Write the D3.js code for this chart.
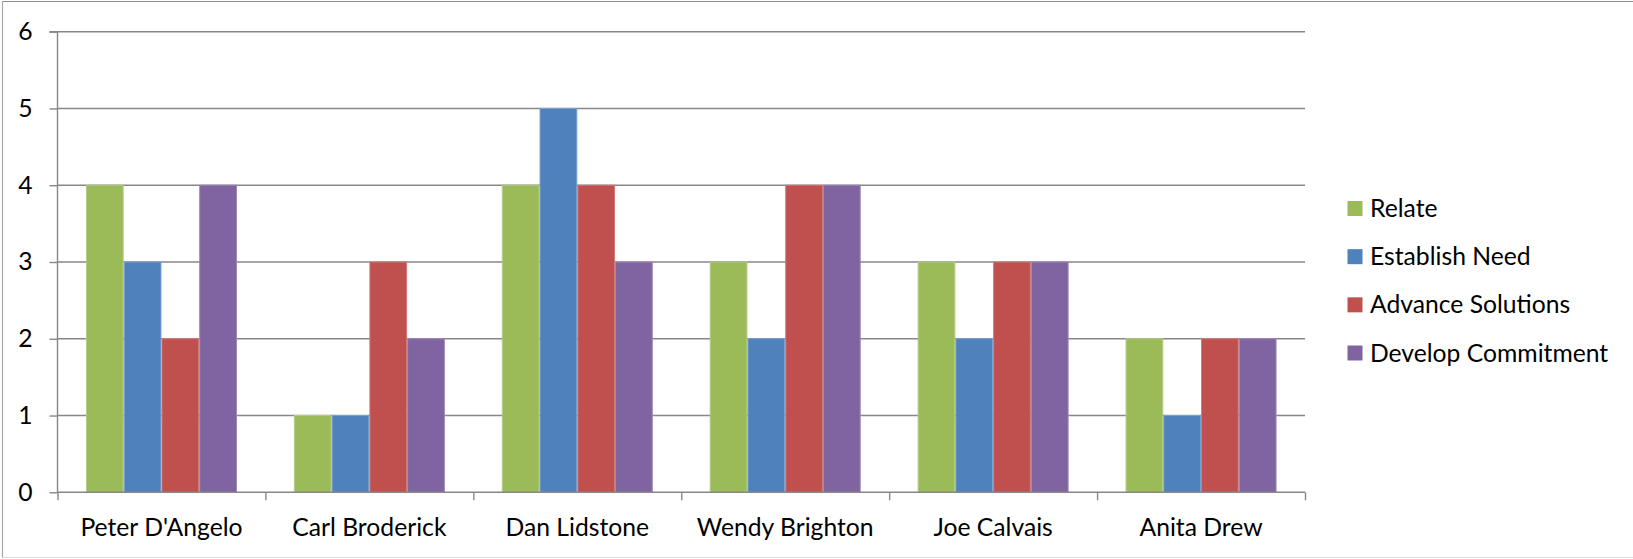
<!DOCTYPE html>
<html>
<head>
<meta charset="utf-8">
<script src="https://cdn.jsdelivr.net/npm/d3@7"></script>
<style>
  html, body { margin: 0; padding: 0; background: #fff; }
  svg { display: block; }
  text { font-family: Lato, "Open Sans", sans-serif; fill: #000; }
</style>
</head>
<body>
<svg id="chart" width="1633" height="559"></svg>
<script>
const categories = ["Peter D'Angelo", "Carl Broderick", "Dan Lidstone", "Wendy Brighton", "Joe Calvais", "Anita Drew"];
const seriesNames = ["Relate", "Establish Need", "Advance Solutions", "Develop Commitment"];
const relate = [4, 1, 4, 3, 3, 2];
const establishNeed = [3, 1, 5, 2, 2, 1];
const advanceSolutions = [2, 3, 4, 4, 3, 2];
const developCommitment = [4, 2, 3, 4, 3, 2];
const yTicks = [0, 1, 2, 3, 4, 5, 6];
const colors = ["#9BBB59", "#4F81BD", "#C0504D", "#8064A2"];
const strokes = ["#b3cc85", "#7aa0cf", "#d07a78", "#9d87b9"];

const seriesValues = [relate, establishNeed, advanceSolutions, developCommitment];

const svg = d3.select("#chart");
const W = 1633, H = 559;
const plot = { left: 57.5, right: 1305, top: 31.7, bottom: 492.3 };
const FONT = 24.7;
const axisColor = "#878787";

// outer frame
svg.append("line").attr("x1", 2.5).attr("x2", W).attr("y1", 1.5).attr("y2", 1.5).attr("stroke", "#8f8f8f").attr("stroke-width", 1.2);
svg.append("line").attr("x1", 2.5).attr("x2", 2.5).attr("y1", 1.5).attr("y2", 557.5).attr("stroke", "#a8a8a8").attr("stroke-width", 1.2);
svg.append("line").attr("x1", 2.5).attr("x2", W).attr("y1", 557.5).attr("y2", 557.5).attr("stroke", "#dcdcdc").attr("stroke-width", 1.2);

const y = d3.scaleLinear().domain([0, 6]).range([plot.bottom, plot.top]);
const x0 = d3.scaleBand().domain(categories).range([plot.left, plot.right]).padding(0);
const x1 = d3.scaleBand().domain(seriesNames).range([0, x0.bandwidth()]).paddingInner(0).paddingOuter(0.7536);

// gridlines
svg.append("g").selectAll("line").data(yTicks.filter(d => d > 0)).join("line")
  .attr("x1", plot.left).attr("x2", plot.right)
  .attr("y1", d => y(d)).attr("y2", d => y(d))
  .attr("stroke", axisColor).attr("stroke-width", 1.4);

// bars
const groups = svg.append("g").selectAll("g").data(categories).join("g")
  .attr("transform", c => `translate(${x0(c)},0)`);
groups.selectAll("rect").data((c, ci) => seriesNames.map((s, si) => ({ s, si, v: seriesValues[si][ci] })))
  .join("rect")
  .attr("x", d => x1(d.s) + 0.5)
  .attr("width", x1.bandwidth() - 1)
  .attr("y", d => y(d.v))
  .attr("height", d => y(0) - y(d.v))
  .attr("fill", d => colors[d.si])
  .attr("stroke", d => strokes[d.si])
  .attr("stroke-width", 1);

// y axis
const yAxis = d3.axisLeft(y).tickValues(yTicks).tickSize(8).tickPadding(17).tickFormat(d3.format("d"));
const gy = svg.append("g").attr("transform", `translate(${plot.left},0)`).call(yAxis);
gy.select(".domain").attr("stroke", axisColor).attr("stroke-width", 1.4).attr("d", `M-8,${plot.top}H0V${plot.bottom}`);
gy.selectAll(".tick line").attr("stroke", axisColor).attr("stroke-width", 1.4);
gy.selectAll(".tick text").style("font-size", FONT + "px").style("font-family", "Lato").attr("fill", "#000");

// x axis: boundary ticks + centered labels
const xb = d3.scaleLinear().domain([0, categories.length]).range([plot.left, plot.right]);
const xAxis = d3.axisBottom(xb).tickValues(d3.range(categories.length + 1)).tickSize(8).tickFormat("");
const gx = svg.append("g").attr("transform", `translate(0,${plot.bottom})`).call(xAxis);
gx.select(".domain").attr("stroke", axisColor).attr("stroke-width", 1.6).attr("d", `M${plot.left},0H${plot.right}`);
gx.selectAll(".tick line").attr("stroke", axisColor).attr("stroke-width", 1.4);

svg.append("g").selectAll("text").data(categories).join("text")
  .attr("x", c => x0(c) + x0.bandwidth() / 2)
  .attr("y", 535.5)
  .attr("text-anchor", "middle")
  .style("font-size", FONT + "px")
  .text(c => c);

// legend
const legendY = d3.scalePoint().domain(seriesNames).range([208.5, 353]);
const lg = svg.append("g").selectAll("g").data(seriesNames).join("g")
  .attr("transform", s => `translate(1347.5,${legendY(s)})`);
lg.append("rect").attr("x", 0).attr("y", -7.5).attr("width", 15).attr("height", 15)
  .attr("fill", (s, i) => colors[i]);
lg.append("text").attr("x", 22.5).attr("y", 0).attr("dy", "0.35em")
  .style("font-size", FONT + "px").text(s => s);
</script>
</body>
</html>
